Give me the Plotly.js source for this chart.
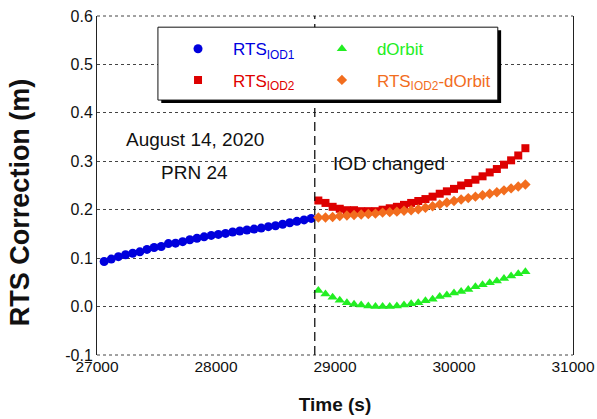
<!DOCTYPE html>
<html>
<head>
<meta charset="utf-8">
<script src="https://cdn.plot.ly/plotly-3.0.1.min.js"></script>
<style>html,body{margin:0;padding:0;background:#fff}#chart{width:597px;height:419px}</style>
</head>
<body>
<div id="chart"></div>
<script>
// Time (s)
const tIOD1 = [27060,27120,27180,27240,27300,27360,27420,27480,27540,27600,27660,27720,27780,27840,27900,27960,28020,28080,28140,28200,28260,28320,28380,28440,28500,28560,28620,28680,28740,28800];
const tIOD2 = [28860,28920,28980,29040,29100,29160,29220,29280,29340,29400,29460,29520,29580,29640,29700,29760,29820,29880,29940,30000,30060,30120,30180,30240,30300,30360,30420,30480,30540,30600];
// RTS correction (m)
const rtsIOD1 = [0.093,0.098,0.103,0.107,0.110,0.113,0.118,0.122,0.124,0.130,0.131,0.134,0.138,0.141,0.144,0.147,0.149,0.151,0.154,0.156,0.158,0.160,0.162,0.165,0.167,0.170,0.173,0.176,0.179,0.182];
const rtsIOD2 = [0.219,0.214,0.206,0.202,0.199,0.199,0.197,0.197,0.197,0.200,0.203,0.206,0.210,0.214,0.218,0.222,0.227,0.233,0.238,0.243,0.250,0.255,0.262,0.269,0.277,0.284,0.293,0.302,0.312,0.327];
const dOrbit = [0.033,0.026,0.019,0.013,0.008,0.005,0.003,0.001,0.000,0.000,0.000,0.001,0.003,0.006,0.008,0.012,0.015,0.021,0.024,0.028,0.031,0.035,0.041,0.045,0.049,0.053,0.058,0.063,0.068,0.072];
const rtsMinusOrbit = [0.184,0.184,0.185,0.187,0.188,0.189,0.190,0.191,0.192,0.194,0.195,0.196,0.198,0.199,0.201,0.204,0.207,0.211,0.215,0.218,0.221,0.224,0.227,0.230,0.233,0.236,0.240,0.244,0.248,0.252];
const iodChangeTime = 28830;
const xTicks = [27000,28000,29000,30000,31000];
const yTicks = [-0.1,0.0,0.1,0.2,0.3,0.4,0.5,0.6];

const FONT = "Liberation Sans, Arial, sans-serif";
const GRID = {color:'#444', width:1, dash:'3px,3px'};
const traces = [
  {x:tIOD1, y:rtsIOD1, mode:'markers', name:'<span style="color:#0000e0">RTS<sub>IOD1</sub></span>',
   marker:{symbol:'circle', size:9, color:'#0000dd'}, legend:'legend', legendgroup:'a'},
  {x:tIOD2, y:rtsIOD2, mode:'markers', name:'<span style="color:#e00000">RTS<sub>IOD2</sub></span>',
   marker:{symbol:'square', size:8, color:'#dd0000'}, legend:'legend', legendgroup:'b'},
  {x:tIOD2, y:dOrbit, mode:'markers', name:'<span style="color:#22ee22">dOrbit</span>',
   marker:{symbol:'triangle-up', size:9, color:'#22ee22'}, legend:'legend2', legendgroup:'c'},
  {x:tIOD2, y:rtsMinusOrbit, mode:'markers', name:'<span style="color:#f26d1e">RTS<sub>IOD2</sub>-dOrbit</span>',
   marker:{symbol:'diamond', size:8, color:'#f26d1e'}, legend:'legend2', legendgroup:'d'}
];
const layout = {
  width:597, height:419,
  margin:{l:97, r:24, t:16, b:64},
  paper_bgcolor:'#fff', plot_bgcolor:'#fff',
  font:{family:FONT, size:15, color:'#111'},
  showlegend:true,
  xaxis:{range:[27000,31000], tickvals:xTicks, ticktext:xTicks.map(String),
    showgrid:false, zeroline:false, showline:false, ticks:'',
    tickfont:{size:15.5}, title:{text:'<b>Time (s)</b>', font:{size:19}, standoff:24}},
  yaxis:{range:[-0.1,0.6], tickvals:yTicks, ticktext:yTicks.map(v=>v.toFixed(1)),
    showgrid:true, gridcolor:GRID.color, griddash:GRID.dash, gridwidth:1,
    zeroline:false, showline:true, linecolor:'#222', linewidth:1, mirror:true, ticks:'',
    tickfont:{size:16}, title:{text:''}},
  legend:{x:0.1387, xanchor:'left', y:0.955, yanchor:'top', bgcolor:'rgba(0,0,0,0)',
    font:{size:17, family:FONT}, itemwidth:60, tracegroupgap:6},
  legend2:{x:0.441, xanchor:'left', y:0.955, yanchor:'top', bgcolor:'rgba(0,0,0,0)',
    font:{size:17, family:FONT}, itemwidth:60, tracegroupgap:6},
  shapes:[
    {type:'line', xref:'paper', yref:'paper', x0:0, x1:1, y0:1, y1:1, line:GRID, layer:'below'},
    {type:'line', xref:'paper', yref:'paper', x0:0, x1:1, y0:0, y1:0, line:GRID, layer:'below'},
    {type:'line', xref:'x', yref:'paper', x0:iodChangeTime, x1:iodChangeTime, y0:0, y1:1,
     line:{color:'#111', width:1.3, dash:'9px,5px'}},
    {type:'rect', xref:'paper', yref:'paper', x0:0.135, x1:0.849, y0:0.743, y1:0.958,
     fillcolor:'#000', line:{width:0}, layer:'above'},
    {type:'rect', xref:'paper', yref:'paper', x0:0.128, x1:0.842, y0:0.752, y1:0.967,
     fillcolor:'#fff', line:{color:'#111', width:1}, layer:'above'}
  ],
  annotations:[
    {x:-0.196, y:0.45, xref:'paper', yref:'paper', text:'<b>RTS Correction (m)</b>', textangle:-90,
     showarrow:false, font:{size:27}},
    {x:27820, y:0.346, xref:'x', yref:'y', text:'August 14, 2020', showarrow:false, font:{size:19}},
    {x:27820, y:0.276, xref:'x', yref:'y', text:'PRN 24', showarrow:false, font:{size:19}},
    {x:29454, y:0.296, xref:'x', yref:'y', text:'IOD changed', showarrow:false, font:{size:19}}
  ]
};
Plotly.newPlot('chart', traces, layout, {displayModeBar:false, staticPlot:true});
</script>
</body>
</html>
